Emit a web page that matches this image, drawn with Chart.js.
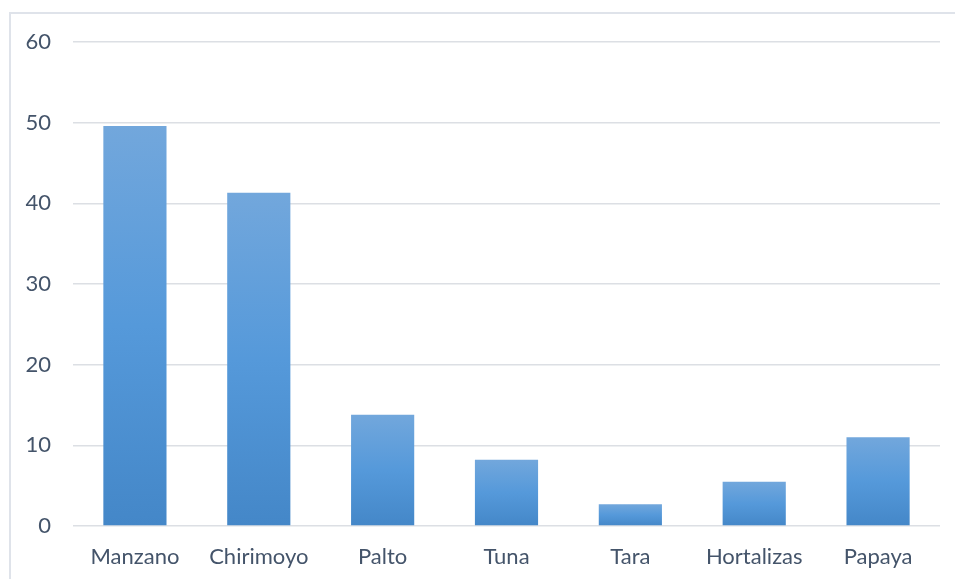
<!DOCTYPE html>
<html>
<head>
<meta charset="utf-8">
<script src="https://cdn.jsdelivr.net/npm/chart.js@4.4.0/dist/chart.umd.min.js"></script>
<style>
  html, body { margin: 0; padding: 0; background: #fff; overflow: hidden; }
  #wrap { position: relative; width: 955px; height: 579px; }
  #frame { position: absolute; left: 9px; top: 12px; width: 1000px; height: 600px; border: 2px solid #dfe3ea; }
  canvas { position: absolute; left: 0; top: 0; }
</style>
</head>
<body>
<div id="wrap">
  <div id="frame"></div>
  <canvas id="grafico" width="955" height="579"></canvas>
</div>
<script>
// datos del gráfico
const categorias = ['Manzano', 'Chirimoyo', 'Palto', 'Tuna', 'Tara', 'Hortalizas', 'Papaya'];
const valores = [49.6, 41.3, 13.8, 8.2, 2.7, 5.5, 11.0];
const yMin = 0;
const yMax = 60;
const yPaso = 10;

const textColor = '#44546a';
const gridColor = '#dcdfe4';

// degradado por barra, de claro arriba a oscuro abajo
function barGradient(context) {
  const chart = context.chart;
  const { ctx, chartArea, scales } = chart;
  if (!chartArea) return '#5b9bd5';
  const top = scales.y.getPixelForValue(context.raw);
  const bottom = scales.y.getPixelForValue(0);
  const g = ctx.createLinearGradient(0, top, 0, bottom);
  g.addColorStop(0, '#72a7dc');
  g.addColorStop(0.5, '#5599da');
  g.addColorStop(1, '#4487c8');
  return g;
}

const ctx = document.getElementById('grafico').getContext('2d');
new Chart(ctx, {
  type: 'bar',
  data: {
    labels: categorias,
    datasets: [{
      data: valores,
      backgroundColor: barGradient,
      borderWidth: 0,
      barPercentage: 0.51,
      categoryPercentage: 1
    }]
  },
  options: {
    responsive: false,
    animation: false,
    layout: { padding: { top: 42, right: 15, left: 0, bottom: 0 } },
    plugins: {
      legend: { display: false },
      tooltip: { enabled: false }
    },
    scales: {
      x: {
        grid: { display: false, drawTicks: false },
        border: { display: false },
        ticks: {
          color: textColor,
          font: { family: 'Lato', size: 22 },
          padding: 18
        },
        afterFit: (axis) => { axis.height = 53; }
      },
      y: {
        min: yMin,
        max: yMax,
        grid: { color: gridColor, lineWidth: 1.5, drawTicks: false },
        border: { display: false },
        ticks: {
          stepSize: yPaso,
          color: textColor,
          font: { family: 'Lato', size: 22 },
          padding: 22
        },
        afterFit: (axis) => { axis.width = 73; }
      }
    }
  }
});
</script>
</body>
</html>
